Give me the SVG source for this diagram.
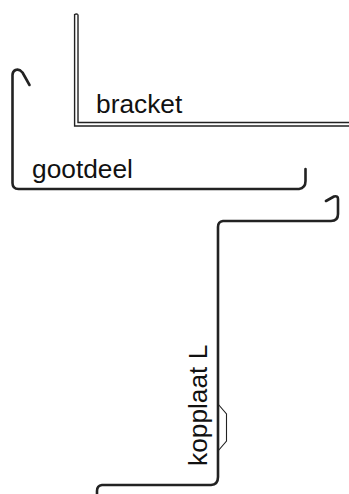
<svg xmlns="http://www.w3.org/2000/svg" width="349" height="494" viewBox="0 0 349 494">
<style>
.p{fill:none;stroke:#222;stroke-width:2.6;stroke-linecap:round;stroke-linejoin:round}
.t{fill:none;stroke:#222;stroke-width:1.4}
.s{fill:none;stroke:#222;stroke-width:1.1}
text{font-family:"Liberation Sans",Arial,sans-serif;font-size:26.3px;fill:#111}
</style>
<rect width="349" height="494" fill="#fff"/>
<g id="bracket">
<path class="t" d="M78 14.500V122.500H349"/>
<path class="t" d="M78 14.500Q76.300 13.500 74.600 14.500V126H349"/>
<text x="96" y="113">bracket</text>
</g>
<g id="gootdeel">
<path class="p" d="M29.500 85L22.500 72.500Q19 68.500 15.500 70Q12.500 71.500 12.500 75V183Q12.500 189 18.500 189H299Q305.500 188 305.500 181V169"/>
<text x="32" y="178">gootdeel</text>
</g>
<g id="kopplaat">
<path class="p" d="M326 201L334 196.500Q338 195.500 338 199V214Q338 221 331 221H223Q218 221.500 218 227V477Q218 484.500 211 485H102Q97 485.500 97 491V494"/>
<path class="s" d="M218 404L226.500 414V441L218 451"/>
<text transform="translate(207 466) rotate(-90)">kopplaat L</text>
</g>
</svg>
